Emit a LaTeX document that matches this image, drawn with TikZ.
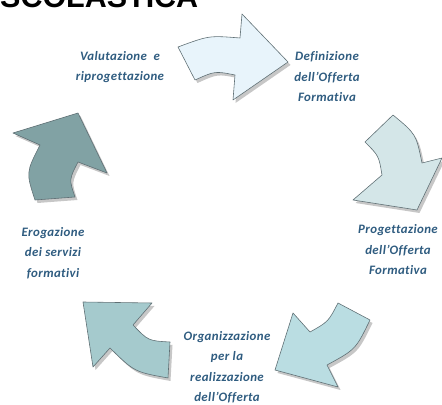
\documentclass[tikz,border=0pt]{standalone}
\usepackage{fontspec}
\newfontfamily\labelFont{Carlito}[LetterSpace=3,Ligatures=NoCommon]
\newfontfamily\titleFont{Liberation Sans}
\usepackage{xcolor}
\definecolor{arrowEdge}{HTML}{5F6F74}
\definecolor{labelBlue}{HTML}{2F5C80}
\definecolor{fillDef}{HTML}{E8F4FB}
\definecolor{fillProg}{HTML}{D4E6E8}
\definecolor{fillOrg}{HTML}{BADDE2}
\definecolor{fillEro}{HTML}{A5CACD}
\definecolor{fillVal}{HTML}{81A2A4}
\usepackage{tikz}
\usetikzlibrary{positioning,calc}
\tikzset{%
  blockArrow/.style={%
    draw=arrowEdge,
    line width=0.5pt,
    line join=round
  },
  arrowShadow/.style={%
    fill=black!40,
    opacity=0.55,
    draw=none,
    shift={(2.5,3)}
  },
  stepLabel/.style={%
    align=center,
    inner sep=0pt,
    text=labelBlue,
    font=\labelFont\bfseries\itshape\fontsize{11}{17.5}\selectfont
  }
}
% shapes of the five curved arrows (pixel grid, y downwards)
\newcommand{\arrowDef}{(178,47) .. controls (209,35.5) .. (240,38) -- (242,14) -- (288,62) -- (233,100) -- (235,75) .. controls (215,71) .. (195,80) -- cycle}
\newcommand{\arrowProg}{(365,142) -- (393,115) .. controls (416,134) .. (422,163) -- (442,158) -- (417,210) -- (353,200) -- (382,175) .. controls (378.8,155.8) .. (365,142) -- cycle}
\newcommand{\arrowOrg}{(338,303) -- (370,320) .. controls (355.7,349.4) .. (327,365) -- (338,387) -- (275,370) -- (293,313) -- (310,332) .. controls (328.3,321.7) .. (338,303) -- cycle}
\newcommand{\arrowEro}{(83,302) -- (152,303) -- (133,325) .. controls (148.2,340.8) .. (170,342) -- (168,378) .. controls (134.4,371.9) .. (110,348) -- (93,367) -- cycle}
\newcommand{\arrowVal}{(13,133) -- (78,113) -- (107,173) -- (78,162) .. controls (69,179.5) .. (75,197) -- (35,200) .. controls (26,172.5) .. (40,145) -- cycle}

\begin{document}
\begin{tikzpicture}[x=0.03cm,y=-0.03cm]
  \useasboundingbox (0,0) rectangle (442,405);
  \clip (0,0) rectangle (442,405);

  \node[anchor=base west, inner sep=0pt, font=\titleFont\bfseries\fontsize{26}{26}\selectfont] (title) at (0,8) {SCOLASTICA};

  \fill[arrowShadow] \arrowDef;
  \fill[arrowShadow] \arrowProg;
  \fill[arrowShadow] \arrowOrg;
  \fill[arrowShadow] \arrowEro;
  \fill[arrowShadow] \arrowVal;

  \draw[blockArrow, fill=fillDef] \arrowDef;
  \draw[blockArrow, fill=fillProg] \arrowProg;
  \draw[blockArrow, fill=fillOrg] \arrowOrg;
  \draw[blockArrow, fill=fillEro] \arrowEro;
  \draw[blockArrow, fill=fillVal] \arrowVal;

  \node[stepLabel] (val) at (120,67) {Valutazione\ \ e\\riprogettazione};
  \node[stepLabel] (def) at (327,77) {Definizione\\dell’Offerta\\Formativa};
  \node[stepLabel] (prog) at (398,250) {Progettazione\\dell’Offerta\\Formativa};
  \node[stepLabel] (org) at (227,367) {Organizzazione\\per la\\realizzazione\\dell’Offerta};
  \node[stepLabel] (ero) at (53,253) {Erogazione\\dei servizi\\formativi};
\end{tikzpicture}
\end{document}
